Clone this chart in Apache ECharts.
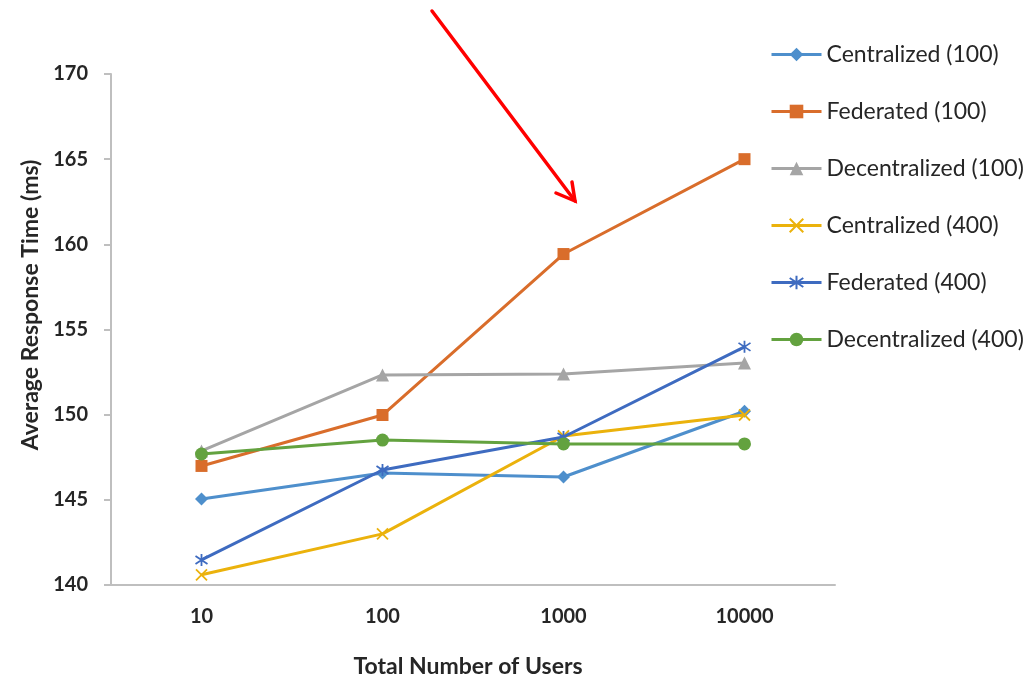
<!DOCTYPE html>
<html>
<head>
<meta charset="utf-8">
<title>Average Response Time</title>
<script src="https://cdn.jsdelivr.net/npm/echarts@6/dist/echarts.min.js"></script>
<style>
  html, body { margin: 0; padding: 0; background: #ffffff; }
  #chart { width: 1034px; height: 679px; }
</style>
</head>
<body>
<div id="chart"></div>
<script>
// Total number of users (x categories)
const userCounts = ['10', '100', '1000', '10000'];

// Average response time (ms) per architecture and node count
const centralized100   = [145.05, 146.58, 146.34, 150.20];
const federated100     = [146.99, 149.98, 159.43, 165.00];
const decentralized100 = [147.87, 152.33, 152.39, 153.03];
const centralized400   = [140.60, 143.00, 148.75, 149.98];
const federated400     = [141.47, 146.75, 148.69, 153.98];
const decentralized400 = [147.69, 148.51, 148.28, 148.28];

const seriesNames = [
  'Centralized (100)', 'Federated (100)', 'Decentralized (100)',
  'Centralized (400)', 'Federated (400)', 'Decentralized (400)'
];
const seriesValues = [
  centralized100, federated100, decentralized100,
  centralized400, federated400, decentralized400
];

const yTicks = { min: 140, max: 170, interval: 5 };

const colors = ['#4E8FCC', '#D96D2B', '#A5A5A5', '#EBB20C', '#3E6BC0', '#63A23F'];
const symbols = [
  'diamond',
  'rect',
  'triangle',
  'path://M0,0L10,10M10,0L0,10',
  'path://M0,1L10,9M10,1L0,9M5,-1L5,11',
  'circle'
];
const symbolSizes = [13, 12, 13, 11, 12, 13];

const FONT = 'Lato, "Open Sans", sans-serif';

const chart = echarts.init(document.getElementById('chart'));

const series = seriesNames.map((name, i) => {
  const isStroked = symbols[i].startsWith('path://');
  return {
    name: name,
    type: 'line',
    data: seriesValues[i],
    symbol: symbols[i],
    symbolSize: symbolSizes[i],
    showAllSymbol: true,
    lineStyle: { color: colors[i], width: 3 },
    itemStyle: {
      color: colors[i],
      borderColor: colors[i],
      borderWidth: isStroked ? 1.8 : 0
    },
    emphasis: { disabled: true },
    z: 2 + i
  };
});

chart.setOption({
  animation: false,
  color: colors,
  grid: { left: 111, right: 199, top: 74, bottom: 94, containLabel: false },
  xAxis: {
    type: 'category',
    data: userCounts,
    boundaryGap: true,
    axisLine: { show: true, lineStyle: { color: '#BFBFBF', width: 2 } },
    axisTick: { show: false },
    axisLabel: {
      margin: 22,
      color: '#262626',
      fontFamily: FONT,
      fontWeight: 'bold',
      fontSize: 20
    },
    splitLine: { show: false }
  },
  yAxis: {
    type: 'value',
    min: yTicks.min,
    max: yTicks.max,
    interval: yTicks.interval,
    axisLine: { show: true, lineStyle: { color: '#BFBFBF', width: 2 } },
    axisTick: { show: true, length: 7, lineStyle: { color: '#BFBFBF', width: 2 } },
    axisLabel: {
      margin: 23,
      color: '#262626',
      fontFamily: FONT,
      fontWeight: 'bold',
      fontSize: 20
    },
    splitLine: { show: false }
  },
  legend: {
    orient: 'vertical',
    left: 770,
    top: 43,
    padding: 0,
    itemWidth: 50,
    itemHeight: 17,
    itemGap: 34,
    selectedMode: false,
    data: seriesNames,
    lineStyle: { width: 3 },
    textStyle: {
      color: '#262626',
      fontFamily: FONT,
      fontSize: 23
    }
  },
  graphic: [
    {
      type: 'text',
      x: 31,
      y: 305,
      rotation: Math.PI / 2,
      style: {
        text: 'Average Response Time (ms)',
        fill: '#262626',
        font: 'bold 23px ' + FONT,
        align: 'center',
        verticalAlign: 'middle'
      }
    },
    {
      type: 'text',
      x: 468,
      y: 667,
      style: {
        text: 'Total Number of Users',
        fill: '#262626',
        font: 'bold 23px ' + FONT,
        align: 'center',
        verticalAlign: 'middle'
      }
    },
    // red callout arrow pointing at the Federated (100) rise
    {
      type: 'line',
      shape: { x1: 432, y1: 11, x2: 575, y2: 201 },
      style: { stroke: '#FF0000', lineWidth: 3.5, lineCap: 'round' },
      z: 100
    },
    {
      type: 'polyline',
      shape: { points: [[556, 193], [575, 201], [572, 182]] },
      style: { stroke: '#FF0000', fill: null, lineWidth: 3.5, lineCap: 'round', lineJoin: 'miter' },
      z: 100
    }
  ],
  series: series
});
</script>
</body>
</html>
